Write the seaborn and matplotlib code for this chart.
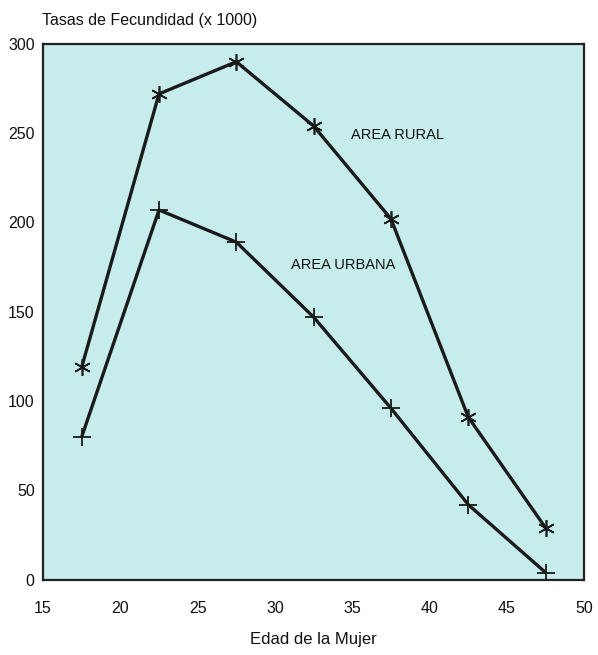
import matplotlib
matplotlib.use("Agg")
import matplotlib.pyplot as plt
import seaborn as sns
import pandas as pd

edad = [17.5, 22.5, 27.5, 32.5, 37.5, 42.5, 47.5]
rural = [119, 272, 290, 254, 202, 91, 29]
urbana = [80, 207, 189, 147, 96, 42, 4]

df = pd.DataFrame({"edad": edad * 2,
                   "tasa": rural + urbana,
                   "area": ["AREA RURAL"] * len(edad) + ["AREA URBANA"] * len(edad)})

sns.set_style("white")
plt.rcParams['font.family'] = ['Liberation Sans', 'DejaVu Sans']
plt.rcParams['text.color'] = "#111111"
plt.rcParams['xtick.color'] = "#111111"
plt.rcParams['ytick.color'] = "#111111"
plt.rcParams['axes.labelcolor'] = "#111111"

fig = plt.figure(figsize=(5.98, 6.55), dpi=100)
ax = fig.add_axes([0.072, 0.115, 0.905, 0.818])
ax.set_facecolor("#c6ecec")

sns.lineplot(data=df[df.area == "AREA RURAL"], x="edad", y="tasa", ax=ax,
             color="#1a1a1a", lw=2.4, marker=(6, 2, 0), markersize=12,
             markeredgewidth=1.2, markeredgecolor="#1a1a1a")
sns.lineplot(data=df[df.area == "AREA URBANA"], x="edad", y="tasa", ax=ax,
             color="#1a1a1a", lw=2.4, marker="+", markersize=13,
             markeredgewidth=1.3, markeredgecolor="#1a1a1a")

ax.set_xlim(15, 50)
ax.set_ylim(0, 300)
ax.set_xticks(range(15, 51, 5))
ax.set_yticks(range(0, 301, 50))
ax.tick_params(axis="x", direction="out", length=9, width=1.5, labelsize=11.5, pad=6)
ax.tick_params(axis="y", length=0, labelsize=11.5, pad=6)
for s in ax.spines.values():
    s.set_color("#222222")
    s.set_linewidth(1.6)

ax.set_xlabel("Edad de la Mujer", fontsize=12, labelpad=12)
ax.set_ylabel("")
fig.text(0.07, 0.968, "Tasas de Fecundidad (x 1000)", fontsize=11.5, ha="left", va="center")

ax.text(37.9, 249, "AREA RURAL", fontsize=10.5, ha="center", va="center")
ax.text(34.4, 176, "AREA URBANA", fontsize=10.5, ha="center", va="center")

fig.savefig("out.png", dpi=100, facecolor="white")
